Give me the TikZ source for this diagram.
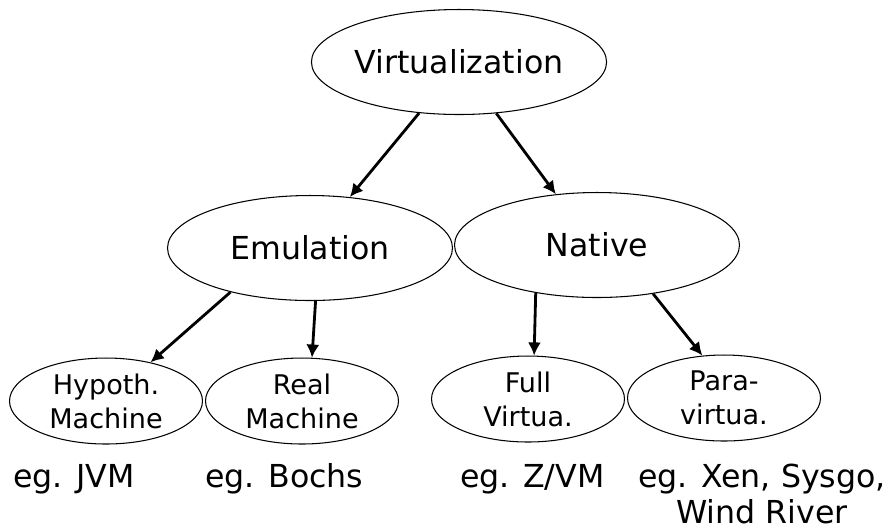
\documentclass[tikz,border=0pt]{standalone}
\usepackage{fontspec}
\setmainfont{DejaVu Sans}
\usetikzlibrary{shapes.geometric,arrows.meta}

\begin{document}
\begin{tikzpicture}[x=0.02cm,y=-0.02cm,
  big/.style={ellipse, draw, line width=0.6pt, inner sep=0pt, minimum width=5.7cm, minimum height=2.1cm, font=\fontsize{18}{20.5}\selectfont},
  small/.style={ellipse, draw, line width=0.6pt, inner sep=0pt, minimum width=3.86cm, minimum height=1.72cm, align=center, font=\fontsize{15.4}{19.3}\selectfont},
  eg/.style={anchor=base west, inner sep=0pt, font=\fontsize{18}{20.5}\selectfont},
  link/.style={-{Latex[length=7.5pt,width=7.5pt]}, line width=1.6pt}]
\useasboundingbox (0,0) rectangle (891,529);
\node[big] (virt) at (459,62) {Virtualization};
\node[big] (emu) at (310,248) {Emulation};
\node[big] (nat) at (597,245) {Native};
\node[small] (hyp) at (106,401) {Hypoth.\\Machine};
\node[small] (real) at (302,401) {Real\\Machine};
\node[small] (full) at (528,399) {Full\\Virtua.};
\node[small] (para) at (724,398) {Para-\\virtua.};
\node[eg] (eg1) at (13,487) {eg. JVM};
\node[eg] (eg2) at (205,487) {eg. Bochs};
\node[eg] (eg3) at (460,487) {eg. Z/VM};
\node[eg, anchor=base, align=center] (eg4) at (762,523) {eg. Xen, Sysgo,\\Wind River};
\draw[link] (virt.232) -- (emu.52);
\draw[link] (virt.306) -- (nat.129);
\draw[link] (emu.209) -- (hyp.41);
\draw[link] (emu.276) -- (real.77);
\draw[link] (nat.218) -- (full.82);
\draw[link] (nat.319) -- (para.117);
\end{tikzpicture}
\end{document}
